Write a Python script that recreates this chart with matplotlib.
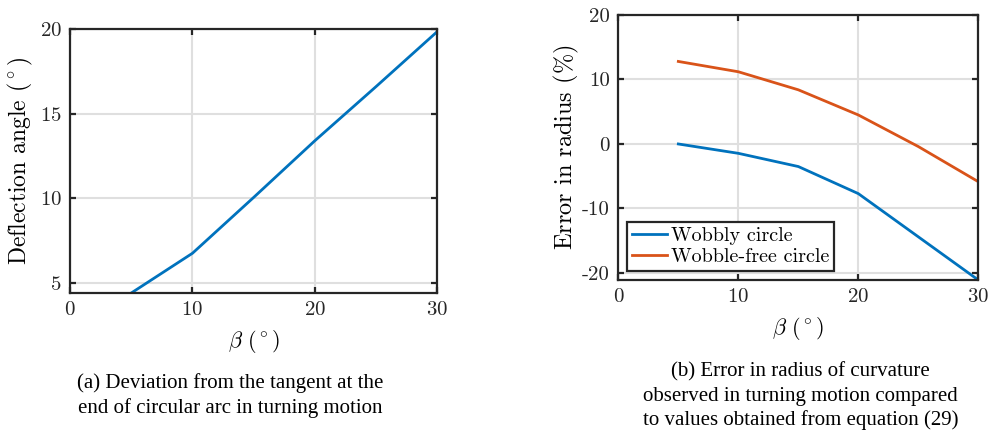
import matplotlib
matplotlib.use("Agg")
import matplotlib.pyplot as plt

# Data
beta = [5, 10, 15, 20, 25, 30]
deflection = [4.4, 6.75, 10.05, 13.4, 16.6, 19.85]

err_wobbly = [0.0, -1.45, -3.5, -7.7, -14.4, -21.1]
err_free = [12.8, 11.2, 8.4, 4.5, -0.4, -5.85]

xticks = [0, 10, 20, 30]

plt.rcParams['font.family'] = 'serif'
plt.rcParams['font.serif'] = ['cmr10', 'DejaVu Serif']
plt.rcParams['mathtext.fontset'] = 'cm'
plt.rcParams['axes.formatter.use_mathtext'] = True

BLUE = '#0072BD'
ORANGE = '#D95319'
FRAME = '#262626'


def style_axes(ax):
    for s in ax.spines.values():
        s.set_linewidth(1.6)
        s.set_color(FRAME)
    ax.grid(True, color='#dfdfdf', linewidth=1.5)
    ax.set_axisbelow(True)
    ax.tick_params(direction='in', top=True, right=True, length=4, width=1.6,
                   labelsize=15, colors=FRAME, pad=6)
    ax.set_xticks(xticks)
    ax.set_xlim(0, 30)


fig = plt.figure(figsize=(9.93, 4.38), dpi=100)

# (a) deflection angle
ax1 = fig.add_axes([0.0705, 0.331, 0.370, 0.603])
ax1.plot(beta, deflection, color=BLUE, linewidth=2)
style_axes(ax1)
ax1.set_ylim(4.4, 20)
ax1.set_yticks([5, 10, 15, 20])
ax1.set_xlabel(r'$\beta\ (^\circ)$', fontsize=16, labelpad=6)
ax1.set_ylabel(r'Deflection angle $(^\circ)$', fontsize=17, labelpad=3)

# (b) error in radius
ax2 = fig.add_axes([0.6227, 0.3607, 0.3625, 0.605])
ax2.plot(beta, err_wobbly, color=BLUE, linewidth=2, label='Wobbly circle')
ax2.plot(beta, err_free, color=ORANGE, linewidth=2, label='Wobble-free circle')
style_axes(ax2)
ax2.set_ylim(-21.1, 20)
ax2.set_yticks([-20, -10, 0, 10, 20])
ax2.set_yticklabels(['-20', '-10', '0', '10', '20'])
ax2.set_xlabel(r'$\beta\ (^\circ)$', fontsize=16, labelpad=6)
ax2.set_ylabel(r'Error in radius $(\%)$', fontsize=17.5, labelpad=1)
leg = ax2.legend(loc='lower left', fontsize=14.5, fancybox=False, framealpha=1,
                 edgecolor=FRAME, borderpad=0.25, labelspacing=0.15,
                 handlelength=1.7, handletextpad=0.2, borderaxespad=0.45)
leg.get_frame().set_linewidth(1.6)

# captions
cap = dict(family='Liberation Serif', fontsize=15, ha='center', va='center')
fig.text(0.232, 1 - 383 / 438, '(a) Deviation from the tangent at the', **cap)
fig.text(0.232, 1 - 408 / 438, 'end of circular arc in turning motion', **cap)
fig.text(0.806, 1 - 372 / 438, '(b) Error in radius of curvature', **cap)
fig.text(0.806, 1 - 396 / 438, 'observed in turning motion compared', **cap)
fig.text(0.806, 1 - 420 / 438, 'to values obtained from equation (29)', **cap)

fig.savefig('out.png', dpi=100)
